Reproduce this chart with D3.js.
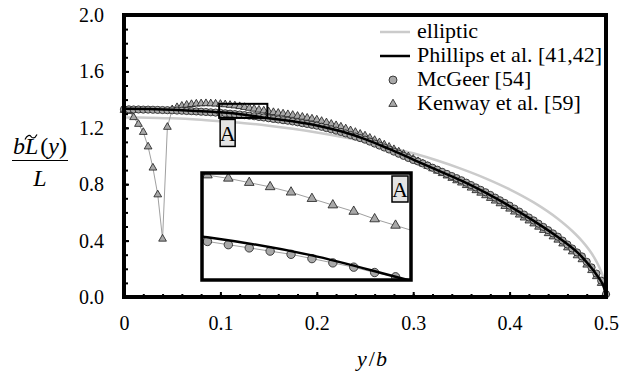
<!DOCTYPE html>
<html>
<head>
<meta charset="utf-8">
<script src="https://cdn.jsdelivr.net/npm/d3@7"></script>
<style>
body { margin: 0; background: #fff; }
</style>
</head>
<body>
<script>
/* spanwise stations y/b used by the two marker series */
var stations = d3.range(101).map(function (i) { return i * 0.005; });

/* elliptic distribution */
var ellipticY = [0, 0.025, 0.05, 0.075, 0.1, 0.125, 0.15, 0.175, 0.2, 0.225, 0.25, 0.275, 0.3, 0.325,
  0.35, 0.375, 0.4, 0.425, 0.45, 0.465, 0.475, 0.485, 0.49, 0.495, 0.498, 0.5];
var ellipticL = [1.273, 1.272, 1.267, 1.259, 1.247, 1.233, 1.215, 1.193, 1.167, 1.137, 1.103, 1.063, 1.019, 0.968,
  0.909, 0.842, 0.764, 0.671, 0.555, 0.468, 0.398, 0.310, 0.253, 0.180, 0.114, 0];

/* Phillips et al. */
var phillipsY = [0, 0.025, 0.05, 0.075, 0.1, 0.125, 0.15, 0.175, 0.2, 0.225, 0.25, 0.275, 0.3, 0.325,
  0.35, 0.375, 0.4, 0.425, 0.45, 0.475, 0.485, 0.49, 0.495, 0.498, 0.5];
var phillipsL = [1.335, 1.333, 1.328, 1.320, 1.310, 1.293, 1.268, 1.246, 1.217, 1.175, 1.120, 1.050, 0.975, 0.900,
  0.825, 0.740, 0.645, 0.540, 0.425, 0.285, 0.205, 0.160, 0.110, 0.065, 0];

/* McGeer */
var mcgeerL = [1.331, 1.331, 1.330, 1.330, 1.329, 1.329, 1.328, 1.327, 1.326, 1.325,
  1.324, 1.322, 1.321, 1.319, 1.318, 1.316, 1.314, 1.312, 1.310, 1.308,
  1.306, 1.303, 1.300, 1.297, 1.294, 1.290, 1.286, 1.282, 1.277, 1.273,
  1.268, 1.263, 1.259, 1.254, 1.250, 1.245, 1.239, 1.233, 1.227, 1.221,
  1.215, 1.207, 1.198, 1.189, 1.180, 1.171, 1.160, 1.149, 1.138, 1.127,
  1.116, 1.102, 1.088, 1.074, 1.060, 1.046, 1.031, 1.016, 1.001, 0.986,
  0.972, 0.961, 0.947, 0.932, 0.917, 0.903, 0.888, 0.873, 0.858, 0.843,
  0.828, 0.811, 0.794, 0.777, 0.760, 0.743, 0.724, 0.705, 0.686, 0.667,
  0.648, 0.627, 0.606, 0.585, 0.564, 0.543, 0.520, 0.497, 0.474, 0.451,
  0.428, 0.400, 0.372, 0.344, 0.316, 0.288, 0.250, 0.210, 0.166, 0.116,
  0.020];

/* Kenway et al. */
var kenwayL = [1.325, 1.318, 1.274, 1.226, 1.169, 1.066, 0.916, 0.726, 0.412, 1.205,
  1.330, 1.345, 1.355, 1.362, 1.367, 1.370, 1.372, 1.373, 1.372, 1.370,
  1.368, 1.365, 1.361, 1.357, 1.352, 1.346, 1.340, 1.334, 1.327, 1.321,
  1.315, 1.310, 1.305, 1.300, 1.295, 1.290, 1.283, 1.277, 1.270, 1.264,
  1.257, 1.247, 1.237, 1.227, 1.217, 1.207, 1.194, 1.181, 1.169, 1.156,
  1.144, 1.128, 1.112, 1.096, 1.080, 1.064, 1.047, 1.030, 1.013, 0.996,
  0.979, 0.962, 0.945, 0.928, 0.911, 0.894, 0.877, 0.860, 0.843, 0.826,
  0.810, 0.792, 0.774, 0.756, 0.738, 0.720, 0.701, 0.682, 0.663, 0.644,
  0.625, 0.604, 0.583, 0.562, 0.541, 0.520, 0.497, 0.474, 0.451, 0.428,
  0.405, 0.378, 0.350, 0.322, 0.294, 0.266, 0.228, 0.189, 0.146, 0.098,
  0.030];

var xTicks = [0, 0.1, 0.2, 0.3, 0.4, 0.5];
var xMinor = d3.range(0, 0.501, 0.02);
var yTicks = [0, 0.4, 0.8, 1.2, 1.6, 2.0];
var yMinor = d3.range(0, 2.001, 0.1);
var legendNames = ['elliptic', 'Phillips et al. [41,42]', 'McGeer [54]', 'Kenway et al. [59]'];
var zoomX = [0.0987, 0.1487]; /* region A */
var zoomL = [1.27, 1.37];

var serif = "'Liberation Serif', 'Times New Roman', 'DejaVu Serif', serif";
var markFill = '#a8a8a8';
var linkGray = '#a0a0a0';
var ellGray = '#cbcbcb';

var svg = d3.select('body').append('svg')
  .attr('width', 619)
  .attr('height', 373)
  .style('font-family', serif);

var x = d3.scaleLinear().domain([0, 0.5]).range([124, 606]);
var y = d3.scaleLinear().domain([0, 2]).range([297, 15]);

function pts(xs, ys) { return xs.map(function (v, i) { return [v, ys[i]]; }); }
var ellData = pts(ellipticY, ellipticL);
var phiData = pts(phillipsY, phillipsL);
var mcgData = pts(stations, mcgeerL);
var kenData = pts(stations, kenwayL);

/* draws all series into g with given scales */
function drawSeries(g, sx, sy, triSize, circR) {
  var smooth = d3.line().x(function (d) { return sx(d[0]); }).y(function (d) { return sy(d[1]); })
    .curve(d3.curveMonotoneX);
  var straight = d3.line().x(function (d) { return sx(d[0]); }).y(function (d) { return sy(d[1]); });

  g.append('path').attr('d', smooth(ellData))
    .attr('fill', 'none').attr('stroke', ellGray).attr('stroke-width', 2.5);

  g.append('path').attr('d', straight(kenData))
    .attr('fill', 'none').attr('stroke', linkGray).attr('stroke-width', 1);
  g.selectAll('.tri').data(kenData).enter().append('path')
    .attr('d', d3.symbol(d3.symbolTriangle).size(triSize))
    .attr('transform', function (d) { return 'translate(' + sx(d[0]) + ',' + sy(d[1]) + ')'; })
    .attr('fill', markFill).attr('stroke', '#1a1a1a').attr('stroke-width', 0.8);

  g.append('path').attr('d', straight(mcgData))
    .attr('fill', 'none').attr('stroke', linkGray).attr('stroke-width', 1);
  g.selectAll('.circ').data(mcgData).enter().append('circle')
    .attr('cx', function (d) { return sx(d[0]); })
    .attr('cy', function (d) { return sy(d[1]); })
    .attr('r', circR)
    .attr('fill', markFill).attr('stroke', '#1a1a1a').attr('stroke-width', 0.8);

  g.append('path').attr('d', smooth(phiData))
    .attr('fill', 'none').attr('stroke', '#000').attr('stroke-width', 2.5);
}

/* main plot */
drawSeries(svg.append('g'), x, y, 26, 3.6);

/* axes with inward ticks */
var xAxisMinor = d3.axisBottom(x).tickValues(xMinor).tickSize(-3).tickFormat('');
var xAxis = d3.axisBottom(x).tickValues(xTicks).tickSize(-5).tickPadding(19)
  .tickFormat(function (d) { return d === 0 ? '0' : d3.format('.1f')(d); });
var yAxisMinor = d3.axisLeft(y).tickValues(yMinor).tickSize(-4).tickFormat('');
var yAxis = d3.axisLeft(y).tickValues(yTicks).tickSize(-5).tickPadding(20).tickFormat(d3.format('.1f'));

[xAxisMinor, xAxis].forEach(function (a) {
  var g = svg.append('g').attr('transform', 'translate(0,297)').call(a);
  g.attr('font-family', null).attr('font-size', null);
  g.select('.domain').remove();
  g.selectAll('line').attr('stroke', '#000').attr('stroke-width', 2);
  g.selectAll('text').style('font-family', serif).style('font-size', '20px').attr('fill', '#000');
});
[yAxisMinor, yAxis].forEach(function (a) {
  var g = svg.append('g').attr('transform', 'translate(124,0)').call(a);
  g.attr('font-family', null).attr('font-size', null);
  g.select('.domain').remove();
  g.selectAll('line').attr('stroke', '#000').attr('stroke-width', 2);
  g.selectAll('text').style('font-family', serif).style('font-size', '20px').attr('fill', '#000');
});

/* frame */
svg.append('rect')
  .attr('x', 124).attr('y', 15)
  .attr('width', 482).attr('height', 282)
  .attr('fill', 'none').attr('stroke', '#000').attr('stroke-width', 4);

/* zoom box A in main plot */
svg.append('rect')
  .attr('x', x(zoomX[0])).attr('y', y(zoomL[1]))
  .attr('width', x(zoomX[1]) - x(zoomX[0])).attr('height', y(zoomL[0]) - y(zoomL[1]))
  .attr('fill', 'none').attr('stroke', '#000').attr('stroke-width', 2);
svg.append('rect')
  .attr('x', x(zoomX[0]) + 1).attr('y', y(zoomL[0]) + 1.5)
  .attr('width', 15).attr('height', 27)
  .attr('fill', '#e4e4e4').attr('stroke', '#000').attr('stroke-width', 1.5);
svg.append('text')
  .attr('x', x(zoomX[0]) + 8.5).attr('y', y(zoomL[0]) + 23)
  .attr('text-anchor', 'middle').style('font-size', '22px').text('A');

/* inset */
var ix = d3.scaleLinear().domain(zoomX).range([202, 411]);
var iy = d3.scaleLinear().domain(zoomL).range([280, 173]);

svg.append('clipPath').attr('id', 'insetClip')
  .append('rect').attr('x', 202).attr('y', 173).attr('width', 209).attr('height', 107);
svg.append('rect')
  .attr('x', 202).attr('y', 173).attr('width', 209).attr('height', 107)
  .attr('fill', '#fff');
drawSeries(svg.append('g').attr('clip-path', 'url(#insetClip)'), ix, iy, 40, 4.2);
svg.append('rect')
  .attr('x', 202).attr('y', 173).attr('width', 209).attr('height', 107)
  .attr('fill', 'none').attr('stroke', '#000').attr('stroke-width', 3.5);
svg.append('rect')
  .attr('x', 392).attr('y', 176).attr('width', 16).attr('height', 26)
  .attr('fill', '#e4e4e4').attr('stroke', '#000').attr('stroke-width', 1.5);
svg.append('text')
  .attr('x', 400).attr('y', 197)
  .attr('text-anchor', 'middle').style('font-size', '22px').text('A');

/* legend */
var legend = svg.append('g').attr('transform', 'translate(380,0)');
var rowY = [32, 56, 80, 104];
legend.append('line').attr('x1', 0).attr('x2', 30).attr('y1', rowY[0]).attr('y2', rowY[0])
  .attr('stroke', ellGray).attr('stroke-width', 2.5);
legend.append('line').attr('x1', 0).attr('x2', 30).attr('y1', rowY[1]).attr('y2', rowY[1])
  .attr('stroke', '#000').attr('stroke-width', 2.5);
legend.append('circle').attr('cx', 13).attr('cy', rowY[2]).attr('r', 4)
  .attr('fill', markFill).attr('stroke', '#1a1a1a').attr('stroke-width', 0.8);
legend.append('path').attr('d', d3.symbol(d3.symbolTriangle).size(30))
  .attr('transform', 'translate(13,' + rowY[3] + ')')
  .attr('fill', markFill).attr('stroke', '#1a1a1a').attr('stroke-width', 0.8);
legend.selectAll('.lt').data(legendNames).enter().append('text')
  .attr('x', 37)
  .attr('y', function (d, i) { return rowY[i] + 6; })
  .style('font-size', '22px')
  .text(function (d) { return d; });

/* axis titles */
var xt = svg.append('text').attr('x', 372).attr('y', 366).attr('text-anchor', 'middle').style('font-size', '22px');
xt.append('tspan').attr('font-style', 'italic').text('y');
xt.append('tspan').attr('dx', 2).text('/');
xt.append('tspan').attr('dx', 1).attr('font-style', 'italic').text('b');

var num = svg.append('text').attr('x', 13).attr('y', 154).style('font-size', '24px');
num.append('tspan').attr('font-style', 'italic').text('bL');
num.append('tspan').attr('dx', 2).text('(');
num.append('tspan').attr('font-style', 'italic').text('y');
num.append('tspan').text(')');
/* tilde over L */
svg.append('path')
  .attr('d', 'M25,139.5 C27,134.5 30,135 31,136.5 S34.5,139.5 37,134.5')
  .attr('fill', 'none').attr('stroke', '#000').attr('stroke-width', 1.2);
svg.append('line').attr('x1', 12).attr('x2', 68).attr('y1', 160.5).attr('y2', 160.5)
  .attr('stroke', '#000').attr('stroke-width', 1.2);
svg.append('text').attr('x', 40).attr('y', 186).attr('text-anchor', 'middle')
  .style('font-size', '24px').attr('font-style', 'italic').text('L');
</script>
</body>
</html>
